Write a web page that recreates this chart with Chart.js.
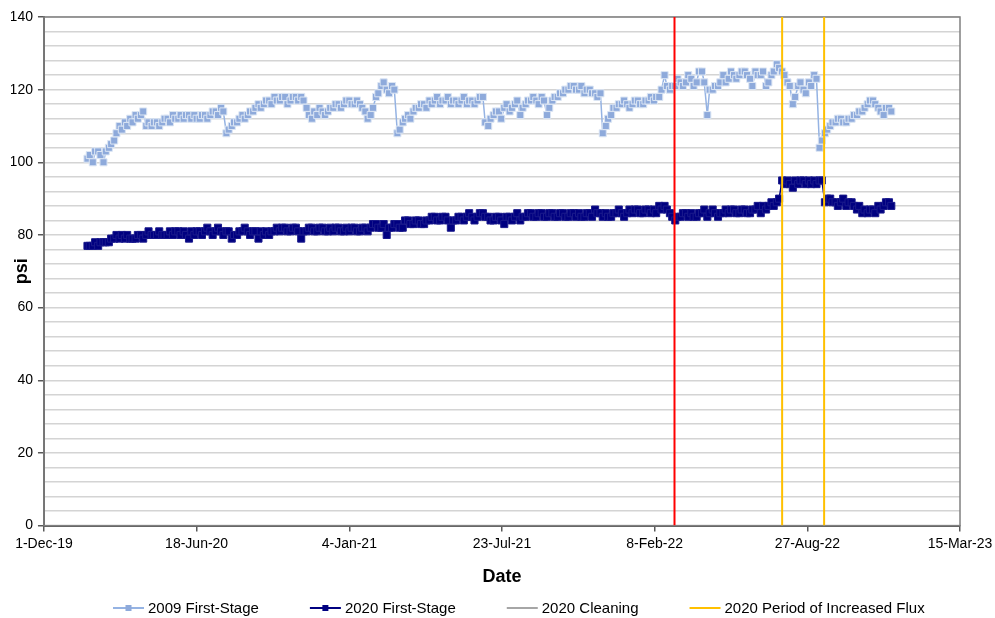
<!DOCTYPE html>
<html>
<head>
<meta charset="utf-8">
<title>First-Stage Pressure</title>
<script src="https://cdn.jsdelivr.net/npm/chart.js@4.4.1/dist/chart.umd.min.js"></script>
<style>
  html, body { margin: 0; padding: 0; background: #fff; }
  #chart { display: block; }
</style>
</head>
<body>
<canvas id="chart" width="995" height="618"></canvas>
<script>
// readings taken twice a week, Monday and Thursday
const mondayDates = [
  // 2020
  '2020-01-27', '2020-02-03', '2020-02-10', '2020-02-17', '2020-02-24', '2020-03-02', '2020-03-09', '2020-03-16',
  '2020-03-23', '2020-03-30', '2020-04-06', '2020-04-13', '2020-04-20', '2020-04-27', '2020-05-04', '2020-05-11',
  '2020-05-18', '2020-05-25', '2020-06-01', '2020-06-08', '2020-06-15', '2020-06-22', '2020-06-29', '2020-07-06',
  '2020-07-13', '2020-07-20', '2020-07-27', '2020-08-03', '2020-08-10', '2020-08-17', '2020-08-24', '2020-08-31',
  '2020-09-07', '2020-09-14', '2020-09-21', '2020-09-28', '2020-10-05', '2020-10-12', '2020-10-19', '2020-10-26',
  '2020-11-02', '2020-11-09', '2020-11-16', '2020-11-23', '2020-11-30', '2020-12-07', '2020-12-14', '2020-12-21',
  '2020-12-28',
  // 2021
  '2021-01-04', '2021-01-11', '2021-01-18', '2021-01-25', '2021-02-01', '2021-02-08', '2021-02-15', '2021-02-22',
  '2021-03-01', '2021-03-08', '2021-03-15', '2021-03-22', '2021-03-29', '2021-04-05', '2021-04-12', '2021-04-19',
  '2021-04-26', '2021-05-03', '2021-05-10', '2021-05-17', '2021-05-24', '2021-05-31', '2021-06-07', '2021-06-14',
  '2021-06-21', '2021-06-28', '2021-07-05', '2021-07-12', '2021-07-19', '2021-07-26', '2021-08-02', '2021-08-09',
  '2021-08-16', '2021-08-23', '2021-08-30', '2021-09-06', '2021-09-13', '2021-09-20', '2021-09-27', '2021-10-04',
  '2021-10-11', '2021-10-18', '2021-10-25', '2021-11-01', '2021-11-08', '2021-11-15', '2021-11-22', '2021-11-29',
  '2021-12-06', '2021-12-13', '2021-12-20', '2021-12-27',
  // 2022
  '2022-01-03', '2022-01-10', '2022-01-17', '2022-01-24', '2022-01-31', '2022-02-07', '2022-02-14', '2022-02-21',
  '2022-02-28', '2022-03-07', '2022-03-14', '2022-03-21', '2022-03-28', '2022-04-04', '2022-04-11', '2022-04-18',
  '2022-04-25', '2022-05-02', '2022-05-09', '2022-05-16', '2022-05-23', '2022-05-30', '2022-06-06', '2022-06-13',
  '2022-06-20', '2022-06-27', '2022-07-04', '2022-07-11', '2022-07-18', '2022-07-25', '2022-08-01', '2022-08-08',
  '2022-08-15', '2022-08-22', '2022-08-29', '2022-09-05', '2022-09-12', '2022-09-19', '2022-09-26', '2022-10-03',
  '2022-10-10', '2022-10-17', '2022-10-24', '2022-10-31', '2022-11-07', '2022-11-14', '2022-11-21', '2022-11-28',
  '2022-12-05', '2022-12-12'
];

const thursdayDates = [
  // 2020
  '2020-01-30', '2020-02-06', '2020-02-13', '2020-02-20', '2020-02-27', '2020-03-05', '2020-03-12', '2020-03-19',
  '2020-03-26', '2020-04-02', '2020-04-09', '2020-04-16', '2020-04-23', '2020-04-30', '2020-05-07', '2020-05-14',
  '2020-05-21', '2020-05-28', '2020-06-04', '2020-06-11', '2020-06-18', '2020-06-25', '2020-07-02', '2020-07-09',
  '2020-07-16', '2020-07-23', '2020-07-30', '2020-08-06', '2020-08-13', '2020-08-20', '2020-08-27', '2020-09-03',
  '2020-09-10', '2020-09-17', '2020-09-24', '2020-10-01', '2020-10-08', '2020-10-15', '2020-10-22', '2020-10-29',
  '2020-11-05', '2020-11-12', '2020-11-19', '2020-11-26', '2020-12-03', '2020-12-10', '2020-12-17', '2020-12-24',
  '2020-12-31',
  // 2021
  '2021-01-07', '2021-01-14', '2021-01-21', '2021-01-28', '2021-02-04', '2021-02-11', '2021-02-18', '2021-02-25',
  '2021-03-04', '2021-03-11', '2021-03-18', '2021-03-25', '2021-04-01', '2021-04-08', '2021-04-15', '2021-04-22',
  '2021-04-29', '2021-05-06', '2021-05-13', '2021-05-20', '2021-05-27', '2021-06-03', '2021-06-10', '2021-06-17',
  '2021-06-24', '2021-07-01', '2021-07-08', '2021-07-15', '2021-07-22', '2021-07-29', '2021-08-05', '2021-08-12',
  '2021-08-19', '2021-08-26', '2021-09-02', '2021-09-09', '2021-09-16', '2021-09-23', '2021-09-30', '2021-10-07',
  '2021-10-14', '2021-10-21', '2021-10-28', '2021-11-04', '2021-11-11', '2021-11-18', '2021-11-25', '2021-12-02',
  '2021-12-09', '2021-12-16', '2021-12-23', '2021-12-30',
  // 2022
  '2022-01-06', '2022-01-13', '2022-01-20', '2022-01-27', '2022-02-03', '2022-02-10', '2022-02-17', '2022-02-24',
  '2022-03-03', '2022-03-10', '2022-03-17', '2022-03-24', '2022-03-31', '2022-04-07', '2022-04-14', '2022-04-21',
  '2022-04-28', '2022-05-05', '2022-05-12', '2022-05-19', '2022-05-26', '2022-06-02', '2022-06-09', '2022-06-16',
  '2022-06-23', '2022-06-30', '2022-07-07', '2022-07-14', '2022-07-21', '2022-07-28', '2022-08-04', '2022-08-11',
  '2022-08-18', '2022-08-25', '2022-09-01', '2022-09-08', '2022-09-15', '2022-09-22', '2022-09-29', '2022-10-06',
  '2022-10-13', '2022-10-20', '2022-10-27', '2022-11-03', '2022-11-10', '2022-11-17', '2022-11-24', '2022-12-01',
  '2022-12-08', '2022-12-15'
];

// 2009 First-Stage, psi
const stage2009Mon = [
  101, 100, 103, 100, 104, 106, 110, 111, 112, 113,
  113, 110, 110, 111, 111, 112, 113, 112, 112, 113,
  113, 112, 113, 113, 114, 115, 108, 110, 111, 113,
  113, 114, 116, 116, 117, 118, 117, 118, 117, 118,
  118, 115, 112, 113, 114, 114, 115, 116, 116, 117,
  116, 116, 114, 113, 118, 121, 120, 121, 108, 111,
  113, 114, 115, 116, 117, 117, 116, 117, 116, 117,
  117, 116, 117, 117, 118, 110, 113, 114, 115, 114,
  116, 113, 116, 117, 117, 118, 113, 117, 118, 119,
  120, 121, 120, 119, 120, 119, 119, 110, 113, 115,
  116, 116, 116, 117, 116, 117, 117, 118, 124, 120,
  121, 122, 122, 123, 122, 125, 113, 120, 121, 124,
  123, 124, 124, 125, 123, 125, 124, 121, 124, 127,
  125, 122, 116, 121, 120, 122, 124, 104, 108, 110,
  111, 112, 111, 112, 113, 114, 116, 117, 115, 113, 115
];
const stage2009Thu = [
  102, 103, 102, 103, 105, 108, 109, 110, 111, 112,
  114, 111, 111, 110, 112, 111, 112, 113, 113, 112,
  112, 113, 112, 114, 113, 114, 109, 111, 112, 112,
  114, 115, 115, 117, 116, 117, 118, 116, 118, 117,
  117, 113, 114, 115, 113, 115, 116, 115, 117, 116,
  117, 115, 112, 115, 119, 122, 119, 120, 109, 112,
  112, 115, 116, 115, 116, 118, 117, 118, 117, 116,
  118, 117, 116, 118, 111, 112, 114, 112, 116, 115,
  117, 115, 117, 118, 116, 117, 115, 118, 119, 120,
  121, 120, 121, 120, 119, 118, 108, 112, 115, 116,
  117, 115, 117, 116, 117, 118, 118, 120, 121, 121,
  123, 121, 124, 121, 125, 122, 120, 121, 122, 122,
  125, 123, 125, 124, 121, 124, 125, 122, 125, 126,
  124, 121, 118, 122, 119, 121, 123, 106, 109, 111,
  112, 111, 112, 113, 114, 115, 117, 116, 114, 115, 114
];

// 2020 First-Stage, psi
const stage2020Mon = [
  77, 77, 77, 78, 78, 79, 79, 79, 79, 79,
  80, 80, 80, 80, 80, 80, 80, 81, 81, 79,
  80, 81, 81, 81, 81, 81, 81, 79, 80, 81,
  81, 81, 79, 80, 80, 81, 81, 82, 81, 82,
  79, 81, 82, 81, 82, 81, 81, 82, 81, 81,
  82, 81, 82, 82, 83, 82, 80, 82, 83, 82,
  84, 83, 84, 83, 84, 85, 84, 85, 82, 84,
  85, 85, 85, 85, 86, 85, 84, 85, 83, 85,
  85, 84, 85, 86, 85, 86, 85, 86, 85, 86,
  85, 86, 86, 85, 86, 87, 86, 86, 85, 86,
  86, 86, 86, 87, 86, 87, 87, 88, 88, 86,
  84, 85, 86, 86, 85, 86, 85, 87, 85, 86,
  86, 87, 86, 87, 86, 87, 86, 87, 89, 89,
  95, 95, 93, 94, 95, 95, 95, 95, 89, 90,
  89, 89, 88, 89, 87, 86, 86, 87, 88, 88, 89
];
const stage2020Thu = [
  77, 78, 78, 78, 79, 80, 80, 80, 79, 80,
  79, 81, 80, 81, 80, 81, 81, 80, 80, 81,
  81, 80, 82, 80, 82, 80, 81, 80, 81, 82,
  80, 81, 81, 81, 81, 82, 82, 81, 82, 81,
  81, 82, 81, 82, 81, 82, 82, 81, 82, 82,
  81, 82, 81, 83, 82, 83, 82, 83, 82, 84,
  83, 84, 83, 84, 85, 84, 85, 84, 84, 85,
  84, 86, 84, 86, 85, 84, 85, 84, 85, 84,
  86, 85, 86, 85, 86, 85, 86, 85, 86, 85,
  86, 85, 85, 86, 85, 86, 85, 85, 86, 87,
  85, 87, 87, 86, 87, 86, 86, 87, 87, 85,
  85, 86, 85, 85, 86, 87, 86, 86, 86, 87,
  87, 86, 87, 86, 87, 88, 88, 88, 88, 90,
  94, 94, 95, 95, 94, 94, 94, 95, 90, 89,
  88, 90, 89, 88, 88, 87, 87, 86, 87, 89, 88
];

const redLineDate = '2022-03-06';
const fluxDates = ['2022-07-25', '2022-09-18'];

const xTickLabels = ['1-Dec-19', '18-Jun-20', '4-Jan-21', '23-Jul-21', '8-Feb-22', '27-Aug-22', '15-Mar-23'];

const FONT = '"Liberation Sans", Arial, sans-serif';
const DAY0 = Date.UTC(2019, 11, 1);

// days since 1-Dec-19, the axis origin
function toDay(s) {
  const [y, m, d] = s.split('-').map(Number);
  return (Date.UTC(y, m - 1, d) - DAY0) / 86400000;
}

function points(monVals, thuVals) {
  const pts = mondayDates.map((d, i) => ({ x: toDay(d), y: monVals[i] }))
    .concat(thursdayDates.map((d, i) => ({ x: toDay(d), y: thuVals[i] })));
  return pts.sort((a, b) => a.x - b.x);
}

function vline(day) {
  return [{ x: day, y: 0 }, { x: day, y: 140 }];
}

// plot area frame (top + right edges like the Excel chart)
const frame = {
  id: 'frame',
  beforeDatasetsDraw(chart) {
    const { ctx, chartArea: a } = chart;
    ctx.save();
    ctx.strokeStyle = '#808080';
    ctx.lineWidth = 1.5;
    ctx.strokeRect(a.left, a.top, a.right - a.left, a.bottom - a.top);
    ctx.restore();
  }
};

// Excel style legend: line sample with marker in the middle
const excelLegend = {
  id: 'excelLegend',
  afterDraw(chart) {
    const ctx = chart.ctx;
    const items = chart.data.datasets.filter(d => d.label);
    const sample = 31, gap = 4, spacing = 51, y = 608;
    let x = 113;
    ctx.save();
    ctx.font = '15px ' + FONT;
    ctx.textBaseline = 'middle';
    items.forEach(d => {
      ctx.strokeStyle = d.borderColor;
      ctx.lineWidth = 2;
      ctx.beginPath();
      ctx.moveTo(x, y);
      ctx.lineTo(x + sample, y);
      ctx.stroke();
      if (d.pointRadius) {
        ctx.fillStyle = d.pointBackgroundColor;
        ctx.fillRect(x + sample / 2 - 3, y - 3, 6, 6);
      }
      ctx.fillStyle = '#000';
      ctx.fillText(d.label, x + sample + gap, y + 1);
      x += sample + gap + ctx.measureText(d.label).width + spacing;
    });
    ctx.restore();
  }
};

new Chart(document.getElementById('chart'), {
  type: 'line',
  data: {
    datasets: [
      {
        label: '2009 First-Stage',
        data: points(stage2009Mon, stage2009Thu),
        borderColor: '#95b3e3',
        borderWidth: 1.5,
        pointStyle: 'rect',
        pointRadius: 5,
        pointBackgroundColor: '#8eaadb',
        pointBorderColor: '#dce6f4',
        pointBorderWidth: 1,
        order: 2
      },
      {
        label: '2020 First-Stage',
        data: points(stage2020Mon, stage2020Thu),
        borderColor: '#000080',
        borderWidth: 1.5,
        pointStyle: 'rect',
        pointRadius: 5,
        pointBackgroundColor: '#000080',
        pointBorderColor: '#1a1a8c',
        pointBorderWidth: 1,
        order: 1
      },
      {
        label: '2020 Cleaning',
        data: [],
        borderColor: '#a6a6a6',
        borderWidth: 2,
        pointRadius: 0
      },
      {
        label: '2020 Period of Increased Flux',
        data: [...vline(toDay(fluxDates[0])), { x: toDay(fluxDates[0]), y: null }, ...vline(toDay(fluxDates[1]))],
        borderColor: '#ffc000',
        borderWidth: 2,
        pointRadius: 0,
        spanGaps: false,
        order: 0
      },
      {
        data: vline(toDay(redLineDate)),
        borderColor: '#ff0000',
        borderWidth: 2,
        pointRadius: 0,
        order: 0
      }
    ]
  },
  options: {
    responsive: false,
    animation: false,
    events: [],
    layout: { padding: { left: 11, right: 0, top: 17, bottom: 30 } },
    plugins: {
      legend: { display: false },
      tooltip: { enabled: false }
    },
    scales: {
      x: {
        type: 'linear',
        min: 0,
        max: 1200,
        // keep the last label hanging past the plot like Excel does
        afterFit: scale => { scale.paddingRight = 35; },
        ticks: {
          stepSize: 200,
          autoSkip: false,
          maxRotation: 0,
          padding: 4,
          color: '#000',
          font: { family: FONT, size: 14 },
          callback: (v, i) => xTickLabels[i]
        },
        grid: { drawOnChartArea: false, tickLength: 6, color: '#595959', lineWidth: 1.5 },
        border: { color: '#595959', width: 2 },
        title: {
          display: true,
          text: 'Date',
          color: '#000',
          font: { family: FONT, size: 18, weight: 'bold' },
          padding: { top: 10, bottom: 0 }
        }
      },
      y: {
        min: 0,
        max: 140,
        ticks: {
          stepSize: 4,
          autoSkip: false,
          padding: 5,
          color: '#000',
          font: { family: FONT, size: 14 },
          callback: v => (v % 20 === 0 ? v : '')
        },
        grid: {
          color: '#d4d4d4',
          lineWidth: 1.5,
          tickLength: 6,
          tickColor: c => (c.tick && c.tick.value % 20 === 0 ? '#595959' : 'rgba(0,0,0,0)')
        },
        border: { color: '#595959', width: 2 },
        title: {
          display: true,
          text: 'psi',
          color: '#000',
          font: { family: FONT, size: 18, weight: 'bold' },
          // title sits beside the labels column, as in the original
          padding: { top: 0, bottom: -28 }
        }
      }
    }
  },
  plugins: [frame, excelLegend]
});
</script>
</body>
</html>
